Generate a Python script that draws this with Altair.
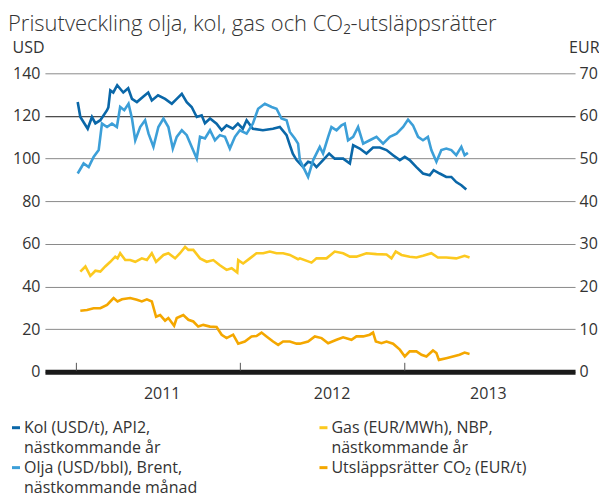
import altair as alt
import pandas as pd

# ---- data (time in decimal years) ----
kol_t = [2011.008, 2011.024, 2011.069, 2011.095, 2011.116, 2011.146, 2011.187, 2011.195, 2011.207, 2011.225,
         2011.249, 2011.286, 2011.316, 2011.339, 2011.369, 2011.407, 2011.438, 2011.460, 2011.498, 2011.541,
         2011.582, 2011.612, 2011.643, 2011.673, 2011.703, 2011.734, 2011.764, 2011.784, 2011.815, 2011.855,
         2011.886, 2011.916, 2011.954, 2011.985, 2012.015, 2012.038, 2012.076, 2012.137, 2012.198, 2012.240,
         2012.281, 2012.301, 2012.319, 2012.342, 2012.382, 2012.412, 2012.443, 2012.463, 2012.503, 2012.540,
         2012.574, 2012.625, 2012.666, 2012.686, 2012.726, 2012.767, 2012.807, 2012.848, 2012.889, 2012.929,
         2012.970, 2013.000, 2013.030, 2013.071, 2013.111, 2013.152, 2013.176, 2013.213, 2013.253, 2013.284,
         2013.314, 2013.345, 2013.375]
kol_v = [126.5, 119.5, 114, 119.5, 116.5, 118, 122.7, 124, 132, 131,
         134.4, 131, 133, 128, 126.5, 129, 131, 127.3, 129.7, 128,
         125.7, 128, 130.4, 126.5, 124.2, 119.5, 120.3, 116.6, 118.8, 116.4,
         113.3, 115.6, 114, 116.4, 114, 118, 114, 113.3, 114, 114.8,
         111, 106.3, 102.3, 99.3, 96, 98.5, 97.7, 96, 99.3, 102.4,
         100, 100, 97.7, 106.3, 104.7, 102.4, 105.2, 105.2, 104, 101.6,
         99.3, 100.8, 99.3, 96, 93, 92.2, 94.6, 93, 91.4, 91.4,
         89, 87.5, 85.5]

olja_t = [2011.008, 2011.044, 2011.075, 2011.105, 2011.136, 2011.156, 2011.187, 2011.217, 2011.247, 2011.267,
          2011.292, 2011.318, 2011.339, 2011.359, 2011.389, 2011.419, 2011.440, 2011.470, 2011.500, 2011.531,
          2011.561, 2011.588, 2011.612, 2011.643, 2011.673, 2011.703, 2011.734, 2011.754, 2011.784, 2011.815,
          2011.845, 2011.875, 2011.906, 2011.936, 2011.967, 2011.997, 2012.038, 2012.076, 2012.108, 2012.149,
          2012.190, 2012.220, 2012.250, 2012.281, 2012.301, 2012.331, 2012.351, 2012.362, 2012.412, 2012.443,
          2012.483, 2012.503, 2012.534, 2012.554, 2012.585, 2012.615, 2012.635, 2012.655, 2012.686, 2012.716,
          2012.747, 2012.787, 2012.828, 2012.868, 2012.909, 2012.950, 2012.990, 2013.020, 2013.050, 2013.081,
          2013.111, 2013.141, 2013.162, 2013.193, 2013.223, 2013.253, 2013.284, 2013.314, 2013.345, 2013.365,
          2013.385]
olja_v = [93, 97.7, 96, 100.8, 104, 116.4, 114.8, 116.4, 114.8, 124.2,
          122.7, 125.7, 118.8, 108.6, 114.8, 118, 111.7, 105.5, 114.8, 118.8,
          114.8, 104.7, 110.2, 113.3, 111, 105.5, 100, 110.2, 109.4, 113.3,
          108.6, 111, 110.2, 104.7, 110.2, 113.3, 111.7, 116.4, 123.4, 125.7,
          124.2, 123.4, 118.8, 118, 112.5, 109.4, 107, 99.3, 91.4, 99.3,
          105.5, 102.4, 110.2, 114.8, 113.3, 115.6, 116.4, 108.6, 110.2, 114.8,
          107, 108.6, 110.2, 107, 110.2, 111.7, 114.8, 118.3, 115.6, 110.2,
          108.6, 110.2, 104, 98.5, 104, 104.7, 104, 101.6, 105.5, 101.6,
          102.7]

gas_t = [2011.024, 2011.055, 2011.085, 2011.116, 2011.146, 2011.176, 2011.207, 2011.237, 2011.251, 2011.267,
         2011.298, 2011.328, 2011.359, 2011.399, 2011.430, 2011.460, 2011.486, 2011.531, 2011.561, 2011.602,
         2011.632, 2011.663, 2011.683, 2011.713, 2011.754, 2011.795, 2011.835, 2011.875, 2011.916, 2011.947,
         2011.981, 2011.987, 2012.017, 2012.058, 2012.098, 2012.139, 2012.179, 2012.220, 2012.260, 2012.301,
         2012.351, 2012.362, 2012.433, 2012.463, 2012.524, 2012.574, 2012.625, 2012.666, 2012.706, 2012.767,
         2012.828, 2012.889, 2012.919, 2012.945, 2012.980, 2013.030, 2013.071, 2013.111, 2013.162, 2013.202,
         2013.253, 2013.314, 2013.365, 2013.395]
gas_v = [23.5, 24.7, 22.5, 23.7, 23.5, 24.7, 25.8, 27, 26.6, 27.8,
         26.2, 26.2, 25.8, 26.6, 26.2, 27.8, 25.8, 27.4, 27.8, 26.6,
         27.8, 29.3, 28.6, 28.6, 26.6, 25.8, 26.2, 25, 23.9, 24.3,
         23.3, 26.2, 25.4, 26.6, 27.8, 27.8, 28.2, 27.8, 27.8, 27.4,
         26.4, 26.6, 25.6, 26.6, 26.6, 28.2, 27.8, 27, 27, 27.8,
         27.6, 27.5, 26.6, 28.2, 27.4, 27, 26.8, 27.2, 27.8, 26.8,
         26.8, 26.6, 27.2, 26.8]

co2_t = [2011.024, 2011.065, 2011.105, 2011.146, 2011.187, 2011.217, 2011.227, 2011.251, 2011.278, 2011.328,
         2011.369, 2011.399, 2011.430, 2011.460, 2011.486, 2011.511, 2011.541, 2011.561, 2011.596, 2011.612,
         2011.652, 2011.683, 2011.713, 2011.743, 2011.774, 2011.815, 2011.855, 2011.886, 2011.916, 2011.956,
         2011.987, 2012.027, 2012.068, 2012.098, 2012.129, 2012.159, 2012.199, 2012.230, 2012.260, 2012.301,
         2012.342, 2012.362, 2012.412, 2012.453, 2012.494, 2012.534, 2012.585, 2012.625, 2012.676, 2012.706,
         2012.747, 2012.787, 2012.807, 2012.824, 2012.858, 2012.889, 2012.929, 2012.970, 2013.000, 2013.030,
         2013.071, 2013.102, 2013.132, 2013.172, 2013.193, 2013.208, 2013.253, 2013.294, 2013.334, 2013.365,
         2013.395]
co2_v = [14.3, 14.5, 14.9, 14.9, 15.7, 16.9, 17.3, 16.5, 17, 17.3,
         16.9, 16.5, 17, 16.5, 12.9, 13.3, 12, 12.6, 10.8, 12.6,
         13.3, 12.2, 11.8, 10.6, 11, 10.6, 10.5, 8.7, 7.9, 8.7,
         6.6, 7.1, 8.3, 8.4, 9.2, 8.3, 7.1, 6.3, 7.1, 7.1,
         6.6, 6.6, 7.1, 8.3, 7.9, 6.7, 7.5, 8.1, 7.5, 8.3,
         8.3, 8.7, 9.2, 7.1, 6.7, 7.1, 6.6, 5.2, 3.6, 4.8,
         4.8, 4.0, 3.6, 5.0, 4.4, 2.8, 3.2, 3.6, 4.0, 4.5,
         4.2]

series_names = ["Kol", "Olja", "Gas", "CO2"]
legend_labels = ["Kol (USD/t), API2,|nästkommande år",
                 "Olja (USD/bbl), Brent,|nästkommande månad",
                 "Gas (EUR/MWh), NBP,|nästkommande år",
                 "Utsläppsrätter CO₂ (EUR/t)"]
series_colors = ["#0a67a8", "#3c9fd8", "#fcc91f", "#f4a700"]
year_ticks = [2011, 2012, 2013]
usd_ticks = [0, 20, 40, 60, 80, 100, 120, 140]
eur_ticks = [0, 10, 20, 30, 40, 50, 60, 70]


def to_date(d):
    y = int(d)
    start = pd.Timestamp(year=y, month=1, day=1)
    days = (pd.Timestamp(year=y + 1, month=1, day=1) - start).days
    return start + pd.Timedelta(days=(d - y) * days)


def frame(ts, vs, name):
    return pd.DataFrame({"date": [to_date(t) for t in ts], "value": vs, "serie": name})


usd = pd.concat([frame(kol_t, kol_v, "Kol"), frame(olja_t, olja_v, "Olja")])
eur = pd.concat([frame(gas_t, gas_v, "Gas"), frame(co2_t, co2_v, "CO2")])
ticks = pd.DataFrame({"date": [pd.Timestamp(year=y, month=1, day=1) for y in year_ticks]})
legend_df = pd.DataFrame({"serie": series_names, "label": legend_labels})

FONT = "Open Sans"
TXT = "#333333"
FS = 16

color_scale = alt.Scale(domain=series_names, range=series_colors)
xscale = alt.Scale(domain=[alt.DateTime(year=2010, month=10, date=23),
                           alt.DateTime(year=2014, month=1, date=15)])
xaxis = alt.Axis(title=None, values=[alt.DateTime(year=2011, month=7, date=10),
                                     alt.DateTime(year=2012, month=7, date=22),
                                     alt.DateTime(year=2013, month=7, date=5)],
                 format="%Y", ticks=False, grid=False, domainWidth=5, domainColor="#1a1a1a",
                 labelFont=FONT, labelFontSize=FS, labelColor=TXT, labelPadding=14)

usd_lines = alt.Chart(usd).mark_line(strokeWidth=2.6).encode(
    x=alt.X("date:T", scale=xscale, axis=xaxis),
    y=alt.Y("value:Q", scale=alt.Scale(domain=[0, 140]),
            axis=alt.Axis(title="USD", titleAngle=0, titleAlign="left", titleBaseline="alphabetic",
                          titleX=-33, titleY=-21, titleFont=FONT, titleFontSize=FS,
                          titleFontWeight="normal", titleColor=TXT,
                          values=usd_ticks, ticks=False, domain=False, labelPadding=5,
                          labelFont=FONT, labelFontSize=FS, labelColor=TXT,
                          grid=True,
                          gridColor=alt.condition("datum.value == 120", alt.value("#1a1a1a"), alt.value("#8a8a8a")))),
    color=alt.Color("serie:N", scale=color_scale, legend=None),
)

eur_lines = alt.Chart(eur).mark_line(strokeWidth=2.6).encode(
    x=alt.X("date:T", scale=xscale, axis=xaxis),
    y=alt.Y("value:Q", scale=alt.Scale(domain=[0, 70]),
            axis=alt.Axis(title="EUR", orient="right", titleAngle=0, titleAlign="right",
                          titleBaseline="alphabetic", titleX=24, titleY=-21, titleFont=FONT,
                          titleFontSize=FS, titleFontWeight="normal", titleColor=TXT,
                          values=eur_ticks, ticks=False, domain=False, grid=False, labelPadding=4,
                          labelFont=FONT, labelFontSize=FS, labelColor=TXT)),
    color=alt.Color("serie:N", scale=color_scale, legend=None),
)

tick_rules = alt.Chart(ticks).mark_rule(color="#555555", strokeWidth=1).encode(
    x=alt.X("date:T", scale=xscale),
    y=alt.value(290),
    y2=alt.value(298),
)

# ---- legend (2 columns, column-major), positioned below the axis ----
COL_X = [-33, 275]   # swatch left edge, relative to plot origin
ROW_Y = [355, 395]   # first text line centre, relative to plot origin
legend_layers = []
for i, name in enumerate(series_names):
    xs, ys = COL_X[i // 2], ROW_Y[i % 2]
    base = alt.Chart(legend_df).transform_filter(alt.datum.serie == name)
    legend_layers.append(base.mark_rule(strokeWidth=3).encode(
        x=alt.value(xs), x2=alt.value(xs + 8), y=alt.value(ys),
        color=alt.Color("serie:N", scale=color_scale, legend=None)))
    legend_layers.append(base.mark_text(align="left", baseline="top", font=FONT, fontSize=FS,
                                        lineBreak="|", lineHeight=20, color=TXT).encode(
        x=alt.value(xs + 12), y=alt.value(ys - 8), text="label:N"))

chart = alt.layer(tick_rules, usd_lines, eur_lines, *legend_layers).resolve_scale(
    y="independent").properties(
    width=531, height=299,
    autosize=alt.AutoSizeParams(type="none"),
    padding={"left": 37, "top": 65, "right": 24, "bottom": 126},
    title=alt.TitleParams(text="Prisutveckling olja, kol, gas och CO₂-utsläppsrätter",
                          anchor="start", frame="group", font=FONT, fontSize=22, fontWeight=300,
                          color=TXT, dx=-37, dy=1),
).configure_view(stroke=None)

chart.save("out.html", embed_options={"renderer": "svg", "actions": False})
